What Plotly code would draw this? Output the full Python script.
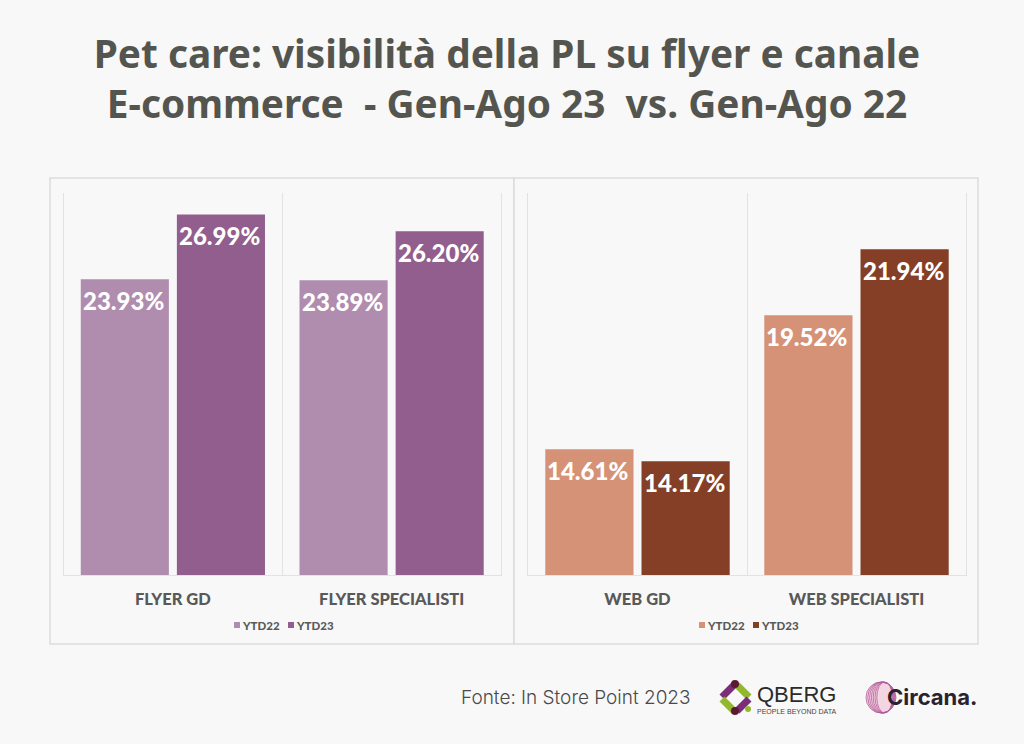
import plotly.graph_objects as go

W = 1024
H = 744

flyer_cats = ["FLYER GD", "FLYER SPECIALISTI"]
flyer_22 = [23.93, 23.89]
flyer_23 = [26.99, 26.20]

web_cats = ["WEB GD", "WEB SPECIALISTI"]
web_22 = [14.61, 19.52]
web_23 = [14.17, 21.94]

series_names = ["YTD22", "YTD23"]

BG = "#f8f8f8"
FRAME = "#dcdcdc"
GRID = "#e2e2e2"
TEXT = "#595959"
TITLE = "#55554f"
PURPLE = ["#b08cae", "#915e8d"]
BROWN = ["#d59277", "#843f26"]


def px(x):
    return x / W


def py(y):
    return 1 - y / H


def label(x, y, text, size, color, family="Lato", anchor="left", weight=None):
    # text placed on the page, in pixels from the top left
    return dict(xref="paper", yref="paper", x=px(x), y=py(y), xanchor=anchor, yanchor="middle",
                text=text, showarrow=False, borderpad=0, borderwidth=0,
                font=dict(family=family, size=size, color=color, weight=weight))


def stroke(x0, y0, x1, y1, color, width):
    return dict(type="line", xref="paper", yref="paper", x0=px(x0), y0=py(y0), x1=px(x1), y1=py(y1),
                line=dict(color=color, width=width))


def disc(cx, cy, r, color):
    return dict(type="circle", xref="paper", yref="paper", x0=px(cx - r), x1=px(cx + r),
                y0=py(cy + r), y1=py(cy - r), fillcolor=color, line=dict(width=0))


fig = go.Figure()

panels = [
    ("x", "y", flyer_cats, flyer_22, flyer_23, PURPLE),
    ("x2", "y2", web_cats, web_22, web_23, BROWN),
]

annotations = []
for xa, ya, cats, v22, v23, colors in panels:
    for name, vals, col in zip(series_names, (v22, v23), colors):
        fig.add_trace(go.Bar(
            x=cats, y=vals, name=name, xaxis=xa, yaxis=ya,
            marker=dict(color=col, line=dict(width=0)),
            showlegend=False,
            hovertemplate="%{x}<br>" + name + ": %{y:.2f}%<extra></extra>",
        ))
    # data labels sit a fixed distance under the top of the bar
    for i, c in enumerate(cats):
        for j, vals in enumerate((v22, v23)):
            annotations.append(dict(
                xref=xa, yref=ya, x=i + (j - 0.5) * 0.4394, y=vals[i], yanchor="middle",
                text="%.2f%%" % vals[i], showarrow=False, yshift=-21, xshift=-1.5,
                font=dict(family="Lato", size=24, color="white", weight=900),
            ))

axis_x = dict(
    type="category", range=[-0.5, 1.5], tickson="boundaries", ticks="",
    showgrid=True, gridcolor=GRID, gridwidth=1,
    showline=True, linecolor=GRID, linewidth=1,
    tickfont=dict(family="Lato", size=16.5, color=TEXT, weight=900),
    ticklabelstandoff=9,
)
# the mirrored y axis line gives the outer rules of each panel
axis_y = dict(showticklabels=False, showgrid=False, zeroline=False, ticks="",
              showline=True, mirror=True, linecolor=GRID, linewidth=1,
              domain=[py(575), py(193)])

shapes = [
    # panel frames
    dict(type="rect", xref="paper", yref="paper", x0=px(50), x1=px(514), y0=py(644), y1=py(178),
         line=dict(color=FRAME, width=1.5), fillcolor=BG, layer="below"),
    dict(type="rect", xref="paper", yref="paper", x0=px(514), x1=px(978), y0=py(644), y1=py(178),
         line=dict(color=FRAME, width=1.5), fillcolor=BG, layer="below"),
]

# legends, drawn by hand because the swatches are very small
legend_pos = [(234, 242, PURPLE), (288, 296, PURPLE), (699, 707, BROWN), (753, 761, BROWN)]
for i, (sx, tx, cols) in enumerate(legend_pos):
    shapes.append(dict(type="rect", xref="paper", yref="paper", x0=px(sx), x1=px(sx + 6),
                       y0=py(628), y1=py(622), line=dict(width=0), fillcolor=cols[i % 2]))
    annotations.append(label(tx, 625.5, series_names[i % 2], 11.5, TEXT, weight=900))

# source
annotations.append(label(461, 697, "Fonte: In Store Point 2023", 19, "#4a4a4a", family="Inter", weight=300))

# QBERG logo
shapes += [
    stroke(737, 685, 749, 697, "#93b82e", 7),
    stroke(722, 697, 734, 685, "#7b2d7a", 7),
    stroke(722, 699, 734, 711, "#93b82e", 7),
    stroke(749, 699, 737, 711, "#7b2d7a", 7),
    disc(735, 684, 4, "#5a1a34"),
    disc(735, 711, 4, "#5a1a34"),
    disc(748, 709, 3, "#93b82e"),
]
annotations.append(label(757, 694, "QBERG", 22, "#2b2b2b", family="Liberation Sans"))
annotations.append(label(757, 711.5, "PEOPLE BEYOND DATA", 7, "#444444", family="Liberation Sans"))

# Circana logo
shapes.append(dict(type="circle", xref="paper", yref="paper", x0=px(866), x1=px(896),
                   y0=py(713), y1=py(682), fillcolor="#f4d5e2", line=dict(width=0)))
for k in range(7):
    shapes.append(dict(type="circle", xref="paper", yref="paper",
                       x0=px(866 + k * 1.8), x1=px(896 - k * 0.6), y0=py(713), y1=py(682),
                       line=dict(color="#b25c9b", width=0.8)))
annotations.append(label(887, 697, "<b>Circana.</b>", 22, "#2a2230", family="Inter"))

fig.update_layout(
    width=W, height=H, margin=dict(l=0, r=0, t=0, b=0), autosize=False,
    paper_bgcolor=BG, plot_bgcolor="rgba(0,0,0,0)",
    title=dict(
        text="<b>Pet care: visibilità della PL su flyer e canale<br>E-commerce  - Gen-Ago 23  vs. Gen-Ago 22</b>",
        x=px(507), xanchor="center", y=py(68), yanchor="middle",
        font=dict(family="Noto Sans", size=38.8, color=TITLE),
    ),
    barmode="group", bargap=0.1213, bargroupgap=0.0833,
    showlegend=False,
    xaxis=dict(axis_x, domain=[px(63.5), px(501)], anchor="y"),
    xaxis2=dict(axis_x, domain=[px(528), px(966)], anchor="y2"),
    yaxis=dict(axis_y, range=[10, 28], anchor="x"),
    yaxis2=dict(axis_y, range=[10, 24], anchor="x2"),
    shapes=shapes, annotations=annotations,
)

fig.write_html("out.html", config=dict(displayModeBar=False),
               post_script="document.body.style.margin='0';document.body.style.overflow='hidden';")
